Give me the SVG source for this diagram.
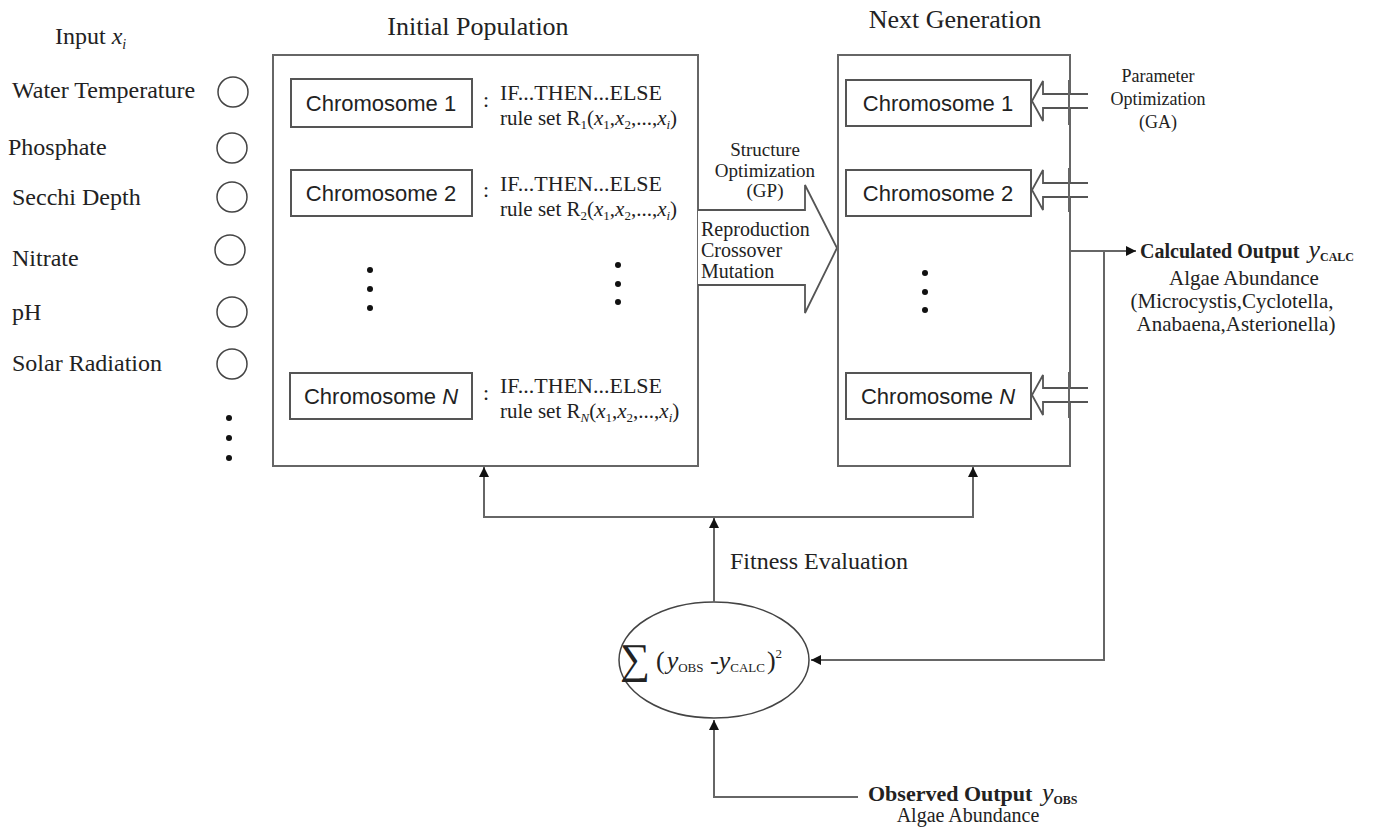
<svg xmlns="http://www.w3.org/2000/svg" width="1397" height="827" viewBox="0 0 1397 827">
<style>
text{font-family:"Liberation Serif","Times New Roman",serif;fill:#222;}
.lbl{font-size:24px;}
.title{font-size:26px;}
.chr{font-family:"Liberation Sans",Arial,sans-serif;font-size:22px;}
.rule{font-size:22px;}
.rule2{font-size:21px;}
.small{font-size:19px;}
.mid{font-size:20px;}
.par{font-size:18px;}
.out{font-size:21px;}
.box{fill:none;stroke:#666;stroke-width:2;}
.cbox{fill:#fff;stroke:#555;stroke-width:2;}
.inp{fill:none;stroke:#444;stroke-width:1.5;}
.ln{fill:none;stroke:#666;stroke-width:2;}
.hol{fill:#fff;stroke:#555;stroke-width:1.8;}
.dot{fill:#111;}
</style>
<defs>
<marker id="ah" viewBox="0 0 10 10" refX="10" refY="5" markerWidth="5" markerHeight="5" orient="auto" markerUnits="strokeWidth">
<path d="M0,0 L10,5 L0,10 z" fill="#111"/>
</marker>
</defs>
<rect width="1397" height="827" fill="#fff"/>

<g id="inputs">
<text class="lbl" x="55" y="44">Input <tspan font-style="italic">x</tspan><tspan font-style="italic" font-size="14" dy="5">i</tspan></text>
<text class="lbl" x="12" y="98">Water Temperature</text>
<text class="lbl" x="8" y="155">Phosphate</text>
<text class="lbl" x="12" y="205">Secchi Depth</text>
<text class="lbl" x="12" y="266">Nitrate</text>
<text class="lbl" x="12" y="320">pH</text>
<text class="lbl" x="12" y="371">Solar Radiation</text>
<circle class="inp" cx="233" cy="92" r="15"/>
<circle class="inp" cx="232" cy="148" r="15"/>
<circle class="inp" cx="232" cy="197" r="15"/>
<circle class="inp" cx="230" cy="250" r="15"/>
<circle class="inp" cx="232" cy="312" r="15"/>
<circle class="inp" cx="232" cy="364" r="15"/>
<circle class="dot" cx="229" cy="418" r="3"/>
<circle class="dot" cx="229" cy="438" r="3"/>
<circle class="dot" cx="229" cy="458" r="3"/>
</g>

<g id="initial-population">
<text class="title" x="478" y="35" text-anchor="middle">Initial Population</text>
<rect class="box" x="273" y="55" width="425" height="411"/>
<rect class="cbox" x="291" y="79" width="181" height="48"/>
<text class="chr" x="381" y="111" text-anchor="middle">Chromosome 1</text>
<rect class="cbox" x="291" y="170" width="181" height="46"/>
<text class="chr" x="381" y="201" text-anchor="middle">Chromosome 2</text>
<rect class="cbox" x="290" y="373" width="182" height="46"/>
<text class="chr" x="381" y="404" text-anchor="middle">Chromosome <tspan font-style="italic">N</tspan></text>
<text class="rule" x="483" y="107">:</text>
<text class="rule" x="483" y="197">:</text>
<text class="rule" x="483" y="400">:</text>
<text class="rule" x="500" y="100">IF...THEN...ELSE</text>
<text class="rule2" x="500" y="125">rule set R<tspan font-size="13" dy="4">1</tspan><tspan dy="-4">(</tspan><tspan font-style="italic">x</tspan><tspan font-size="13" dy="4">1</tspan><tspan dy="-4">,</tspan><tspan font-style="italic">x</tspan><tspan font-size="13" dy="4">2</tspan><tspan dy="-4">,...,</tspan><tspan font-style="italic">x</tspan><tspan font-size="13" font-style="italic" dy="4">i</tspan><tspan dy="-4">)</tspan></text>
<text class="rule" x="500" y="191">IF...THEN...ELSE</text>
<text class="rule2" x="500" y="216">rule set R<tspan font-size="13" dy="4">2</tspan><tspan dy="-4">(</tspan><tspan font-style="italic">x</tspan><tspan font-size="13" dy="4">1</tspan><tspan dy="-4">,</tspan><tspan font-style="italic">x</tspan><tspan font-size="13" dy="4">2</tspan><tspan dy="-4">,...,</tspan><tspan font-style="italic">x</tspan><tspan font-size="13" font-style="italic" dy="4">i</tspan><tspan dy="-4">)</tspan></text>
<text class="rule" x="500" y="393">IF...THEN...ELSE</text>
<text class="rule2" x="500" y="418">rule set R<tspan font-size="13" font-style="italic" dy="4">N</tspan><tspan dy="-4">(</tspan><tspan font-style="italic">x</tspan><tspan font-size="13" dy="4">1</tspan><tspan dy="-4">,</tspan><tspan font-style="italic">x</tspan><tspan font-size="13" dy="4">2</tspan><tspan dy="-4">,...,</tspan><tspan font-style="italic">x</tspan><tspan font-size="13" font-style="italic" dy="4">i</tspan><tspan dy="-4">)</tspan></text>
<circle class="dot" cx="370" cy="270" r="3"/>
<circle class="dot" cx="370" cy="289" r="3"/>
<circle class="dot" cx="370" cy="308" r="3"/>
<circle class="dot" cx="618" cy="265" r="3"/>
<circle class="dot" cx="618" cy="284" r="3"/>
<circle class="dot" cx="618" cy="302" r="3"/>
</g>

<g id="structure-optimization">
<path class="hol" d="M698,210 H805 V185 L837,248 L805,313 V285 H698"/>
<text class="small" x="765" y="156" text-anchor="middle">Structure</text>
<text class="small" x="765" y="177" text-anchor="middle">Optimization</text>
<text class="small" x="765" y="197" text-anchor="middle">(GP)</text>
<text class="mid" x="701" y="236">Reproduction</text>
<text class="mid" x="701" y="257">Crossover</text>
<text class="mid" x="701" y="278">Mutation</text>
</g>

<g id="next-generation">
<text class="title" x="955" y="28" text-anchor="middle">Next Generation</text>
<rect class="box" x="838" y="55" width="232" height="411"/>
<rect class="cbox" x="846" y="80" width="185" height="46"/>
<text class="chr" x="938" y="111" text-anchor="middle">Chromosome 1</text>
<rect class="cbox" x="846" y="170" width="185" height="46"/>
<text class="chr" x="938" y="201" text-anchor="middle">Chromosome 2</text>
<rect class="cbox" x="846" y="373" width="185" height="46"/>
<text class="chr" x="938" y="404" text-anchor="middle">Chromosome <tspan font-style="italic">N</tspan></text>
<circle class="dot" cx="925" cy="273" r="3"/>
<circle class="dot" cx="925" cy="292" r="3"/>
<circle class="dot" cx="925" cy="310" r="3"/>
</g>

<g id="parameter-optimization">
<path class="hol" d="M1088,94 H1043 V81 L1032,101 L1043,121 V108 H1088"/>
<path class="hol" d="M1088,183 H1043 V170 L1032,190 L1043,210 V197 H1088"/>
<path class="hol" d="M1088,388 H1043 V375 L1032,395 L1043,415 V402 H1088"/>
<line x1="1069" y1="80" x2="1069" y2="125" stroke="#666" stroke-width="2"/>
<line x1="1069" y1="168" x2="1069" y2="212" stroke="#666" stroke-width="2"/>
<line x1="1069" y1="372" x2="1069" y2="418" stroke="#666" stroke-width="2"/>
<text class="par" x="1158" y="82" text-anchor="middle">Parameter</text>
<text class="par" x="1158" y="105" text-anchor="middle">Optimization</text>
<text class="par" x="1158" y="128" text-anchor="middle">(GA)</text>
</g>

<g id="calculated-output">
<text x="1140" y="258" font-size="20" font-weight="bold">Calculated Output <tspan font-weight="normal" font-style="italic" font-size="26" dx="4">y</tspan><tspan font-size="12" font-weight="bold" dy="3">CALC</tspan></text>
<text class="out" x="1244" y="285" text-anchor="middle">Algae Abundance</text>
<text class="out" x="1232" y="308" text-anchor="middle">(Microcystis,Cyclotella,</text>
<text class="out" x="1236" y="331" text-anchor="middle">Anabaena,Asterionella)</text>
</g>

<g id="fitness">
<ellipse cx="714" cy="660" rx="95" ry="58" fill="#fff" stroke="#444" stroke-width="1.5"/>
<text x="620" y="673" font-size="42">∑</text>
<text x="656" y="669" font-size="26">(<tspan font-style="italic" dx="2">y</tspan><tspan font-size="13" dy="3">OBS</tspan><tspan dy="-3"> -</tspan><tspan font-style="italic">y</tspan><tspan font-size="13" dy="3">CALC</tspan><tspan dy="-3" dx="2">)</tspan><tspan font-size="13" dy="-11">2</tspan></text>
<text class="lbl" x="730" y="569">Fitness Evaluation</text>
</g>

<g id="observed-output">
<text x="868" y="801" font-size="22" font-weight="bold">Observed Output <tspan font-weight="normal" font-style="italic" font-size="26" dx="4">y</tspan><tspan font-size="12" font-weight="bold" dy="3">OBS</tspan></text>
<text x="968" y="822" font-size="20" text-anchor="middle">Algae Abundance</text>
</g>

<g id="connectors">
<line class="ln" x1="1070" y1="251" x2="1136" y2="251" marker-end="url(#ah)"/>
<polyline class="ln" points="1104,251 1104,660 811,660" marker-end="url(#ah)"/>
<polyline class="ln" points="858,797 714,797 714,720" marker-end="url(#ah)"/>
<line class="ln" x1="714" y1="602" x2="714" y2="518" marker-end="url(#ah)"/>
<polyline class="ln" points="484,468 484,517 973,517 973,468"/>
<line class="ln" x1="484" y1="490" x2="484" y2="467" marker-end="url(#ah)"/>
<line class="ln" x1="973" y1="490" x2="973" y2="467" marker-end="url(#ah)"/>
</g>
</svg>
